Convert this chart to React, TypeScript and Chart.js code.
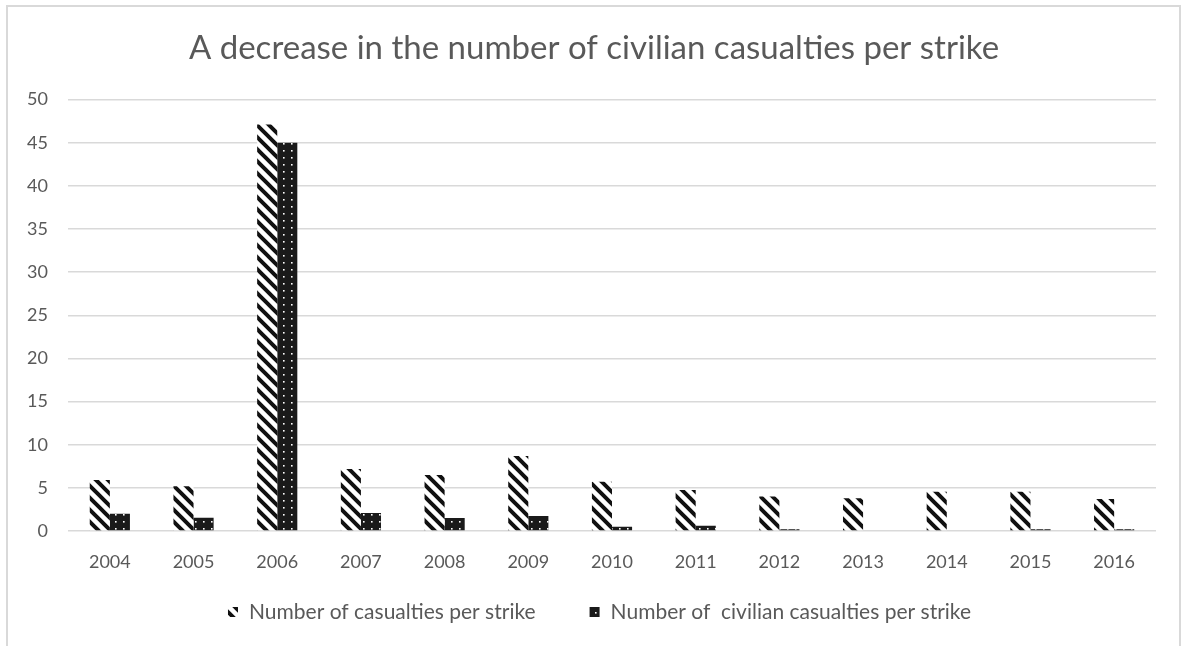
import React, { useEffect, useRef } from "react";
import { Chart, registerables } from "chart.js";

Chart.register(...registerables);

const titleText = "A decrease in the number of civilian casualties per strike";
const years = ["2004", "2005", "2006", "2007", "2008", "2009", "2010", "2011", "2012", "2013", "2014", "2015", "2016"];
const seriesNames = ["Number of casualties per strike", "Number of  civilian casualties per strike"];
const casualtiesPerStrike = [5.9, 5.2, 47.1, 7.2, 6.5, 8.7, 5.7, 4.75, 4.0, 3.8, 4.55, 4.55, 3.7];
const civilianPerStrike = [2.0, 1.55, 45.0, 2.1, 1.5, 1.75, 0.5, 0.6, 0.2, 0, 0, 0.2, 0.2];
const yMax = 50;
const yStep = 5;

const FONT = "Lato, 'Open Sans', sans-serif";
const TEXT = "#595959";
const GRID = "#d9d9d9";

function stripePattern(): CanvasPattern | string {
  const s = 12;
  const c = document.createElement("canvas");
  c.width = s;
  c.height = s;
  const ctx = c.getContext("2d");
  if (!ctx) return "#000";
  ctx.fillStyle = "#ffffff";
  ctx.fillRect(0, 0, s, s);
  ctx.strokeStyle = "#111111";
  ctx.lineWidth = 4;
  ctx.beginPath();
  ctx.moveTo(-s, -s);
  ctx.lineTo(2 * s, 2 * s);
  ctx.moveTo(-s, 0);
  ctx.lineTo(s, 2 * s);
  ctx.moveTo(0, -s);
  ctx.lineTo(2 * s, s);
  ctx.stroke();
  return ctx.createPattern(c, "repeat") || "#000";
}

function dotPattern(): CanvasPattern | string {
  const w = 8;
  const h = 7;
  const c = document.createElement("canvas");
  c.width = w;
  c.height = h;
  const ctx = c.getContext("2d");
  if (!ctx) return "#000";
  ctx.fillStyle = "#1a1a1a";
  ctx.fillRect(0, 0, w, h);
  ctx.fillStyle = "#ffffff";
  ctx.fillRect(3, 3, 1.6, 1.6);
  return ctx.createPattern(c, "repeat") || "#000";
}

const shiftTitle = {
  id: "shiftTitle",
  afterLayout(chart: any) {
    const tb = chart.titleBlock;
    if (tb) {
      tb.left += 16;
      tb.right += 16;
    }
  },
};

const bottomLegend = {
  id: "bottomLegend",
  afterDraw(chart: any) {
    const ctx = chart.ctx as CanvasRenderingContext2D;
    const box = 10;
    const gapText = 11;
    const gapItems = 54;
    const centerX = 599.5;
    const cy = 612;
    ctx.save();
    ctx.font = `21px ${FONT}`;
    ctx.textBaseline = "middle";
    ctx.textAlign = "left";
    const items = chart.data.datasets.map((d: any) => ({
      text: d.label as string,
      fill: d.backgroundColor,
      w: ctx.measureText(d.label as string).width,
    }));
    const total =
      items.reduce((s: number, it: any) => s + box + gapText + it.w, 0) + gapItems * (items.length - 1);
    let x = centerX - total / 2;
    items.forEach((it: any) => {
      ctx.fillStyle = it.fill;
      ctx.fillRect(x, cy - box / 2, box, box);
      ctx.fillStyle = TEXT;
      ctx.fillText(it.text, x + box + gapText, cy);
      x += box + gapText + it.w + gapItems;
    });
    ctx.restore();
  },
};

export default function App() {
  const ref = useRef<HTMLCanvasElement | null>(null);

  useEffect(() => {
    if (!ref.current) return;
    const chart = new Chart(ref.current, {
      type: "bar",
      data: {
        labels: years,
        datasets: [
          {
            label: seriesNames[0],
            data: casualtiesPerStrike,
            backgroundColor: stripePattern() as any,
            borderWidth: 0,
          },
          {
            label: seriesNames[1],
            data: civilianPerStrike,
            backgroundColor: dotPattern() as any,
            borderWidth: 0,
          },
        ],
      },
      plugins: [shiftTitle, bottomLegend],
      options: {
        responsive: false,
        animation: false,
        layout: { padding: { left: 0, right: 28, top: 0, bottom: 0 } },
        datasets: { bar: { categoryPercentage: 0.48, barPercentage: 1 } },
        plugins: {
          title: {
            display: true,
            text: titleText,
            color: TEXT,
            font: { family: FONT, size: 33, weight: "normal" as any },
            padding: { top: 29, bottom: 31 },
          },
          legend: { display: false },
          tooltip: { enabled: false },
        },
        scales: {
          x: {
            grid: { display: false, drawTicks: false },
            border: { display: false },
            ticks: { color: TEXT, font: { family: FONT, size: 18 }, padding: 20 },
            afterFit: (scale: any) => {
              scale.height = 115;
            },
          },
          y: {
            min: 0,
            max: yMax,
            grid: { color: GRID, lineWidth: 1.5, drawTicks: false },
            border: { display: false },
            ticks: { stepSize: yStep, color: TEXT, font: { family: FONT, size: 18 }, padding: 20 },
            afterFit: (scale: any) => {
              scale.width = 68;
            },
          },
        },
      },
    });
    return () => chart.destroy();
  }, []);

  return (
    <div style={{ position: "absolute", left: 0, top: 0, width: 1184, height: 646, background: "#fff", overflow: "hidden" }}>
      <div
        style={{
          position: "absolute",
          left: 6,
          top: 5,
          width: 1175,
          height: 660,
          border: "2px solid #d9d9d9",
          boxSizing: "border-box",
        }}
      />
      <canvas ref={ref} width={1184} height={646} style={{ position: "absolute", left: 0, top: 0 }} />
    </div>
  );
}
